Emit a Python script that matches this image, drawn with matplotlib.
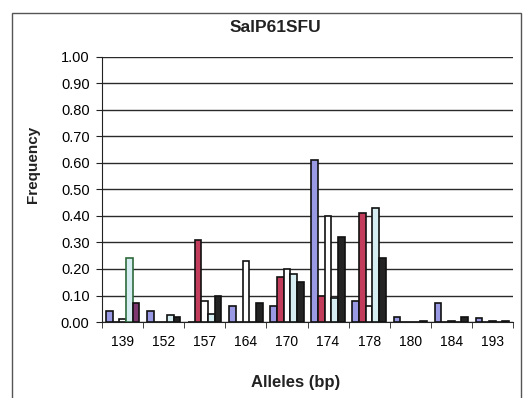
import matplotlib as mpl
mpl.use("Agg")
import matplotlib.pyplot as plt
import numpy as np
from matplotlib.patches import Rectangle

plt.rcParams.update({"font.family": ["Liberation Sans", "DejaVu Sans"]})

# allele frequencies per population (5 series) at each allele size
alleles = ["139", "152", "157", "164", "170", "174", "178", "180", "184", "193"]
pop1 = [0.04, 0.04, 0.00, 0.06, 0.06, 0.61, 0.08, 0.02, 0.07, 0.015]
pop2 = [0.00, 0.00, 0.31, 0.00, 0.17, 0.10, 0.41, 0.00, 0.00, 0.00]
pop3 = [0.01, 0.00, 0.08, 0.23, 0.20, 0.40, 0.06, 0.00, 0.005, 0.005]
pop4 = [0.24, 0.025, 0.03, 0.00, 0.18, 0.09, 0.43, 0.00, 0.00, 0.00]
pop5 = [0.07, 0.02, 0.10, 0.07, 0.15, 0.32, 0.24, 0.005, 0.02, 0.005]
series = [pop1, pop2, pop3, pop4, pop5]
colors = ["#9a9ae4", "#c23c5c", "#ffffff", "#d6eef2", "#242424"]

W, H = 526, 398
fig = plt.figure(figsize=(W / 100, H / 100), dpi=100)
fig.patch.set_facecolor("white")

# outer chart frame
fig.patches.append(Rectangle((12 / W, -0.1), (521 - 12) / W, 1.1 - 13 / H,
                             transform=fig.transFigure, fill=False,
                             edgecolor="#555555", lw=1.0))

ax = fig.add_axes([102 / W, 76 / H, (513 - 102) / W, (322 - 57) / H])
x = np.arange(len(alleles))
bw = 0.163
for i, (vals, col) in enumerate(zip(series, colors)):
    bars = ax.bar(x + (i - 2) * bw, vals, width=bw, color=col,
                  edgecolor="#111111", linewidth=1.2, zorder=3)
    if i == 4:
        bars[0].set_facecolor("#7e3a70")
    if i == 3:
        bars[0].set_edgecolor("#2f6a3c")

ax.set_xlim(-0.5, len(alleles) - 0.5)
ax.set_ylim(0, 1.0)
ax.set_yticks(np.arange(0, 1.01, 0.1))
ax.yaxis.set_major_formatter(mpl.ticker.FormatStrFormatter("%.2f"))
ax.set_xticks(x)
ax.set_xticklabels(alleles)
ax.set_xticks(np.arange(-0.5, len(alleles), 1.0), minor=True)
ax.tick_params(axis="x", which="major", length=0, pad=9, labelsize=10)
ax.tick_params(axis="x", which="minor", length=4, direction="out", color="#222222")
ax.tick_params(axis="y", length=4, direction="out", pad=5, labelsize=10.5,
               color="#222222")
ax.grid(axis="y", color="#2a2a2a", lw=1.0, zorder=0)
for s in ("top", "right"):
    ax.spines[s].set_visible(False)
for s in ("left", "bottom"):
    ax.spines[s].set_color("#222222")

fig.text(275 / W, 1 - 27 / H, "SalP61SFU", ha="center", va="center",
         fontsize=12.5, fontweight="bold", color="#222222")
fig.text(33 / W, 1 - 164 / H, "Frequency", ha="center", va="center",
         rotation=90, fontsize=11, fontweight="bold", color="#222222")
fig.text(296 / W, 1 - 382 / H, "Alleles (bp)", ha="center", va="center",
         fontsize=12, fontweight="bold", color="#222222")

fig.savefig("out.png", dpi=100, facecolor="white")
